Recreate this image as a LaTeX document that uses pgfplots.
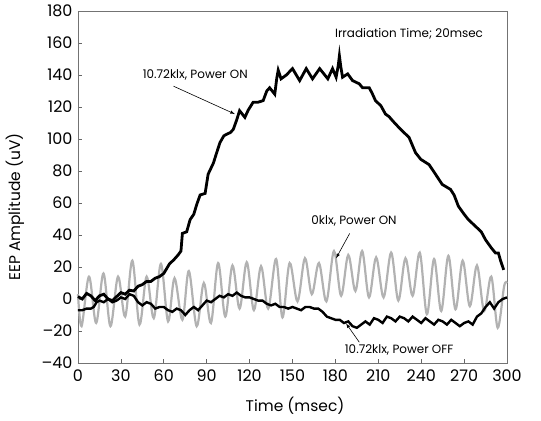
\documentclass[border=0pt]{standalone}
\usepackage{pgfplots}
\pgfplotsset{compat=1.18}
\usepackage{fontspec}
\setmainfont{Poppins}
\begin{document}
\begin{tikzpicture}
\begin{axis}[
 scale only axis, width=429bp, height=352bp,
 xmin=0,xmax=300,ymin=-40,ymax=180,
 xtick={0,30,...,300}, ytick={-40,-20,...,180},
 yticklabels={--40,--20,0,20,40,60,80,100,120,140,160,180},
 tick align=inside, tick pos=left, major tick length=4bp,
 axis line style={black!55, line width=0.7bp},
 tick style={black!60, line width=0.6bp},
 /pgf/number format/assume math mode=true,
 ticklabel style={font=\fontsize{16}{16}\selectfont},
 xticklabel style={yshift=-3bp},
 yticklabel style={xshift=-2bp},
 xlabel={Time (msec)},
 ylabel={EEP Amplitude (uV)},
 label style={font=\fontsize{15.5}{16}\selectfont},
 xlabel style={at={(axis description cs:0.506,-0.12)},anchor=center},
 ylabel style={at={(axis description cs:-0.147,0.443)},anchor=center},
 clip=false,
]
% 0klx, Power ON (grey)
\addplot[gray!60, line width=2.2bp, smooth, tension=0.55] coordinates {
(0,3)(2.5,-17)(7.7,14)(12.7,-15)(17.8,16)(22.7,-17)(28,14)(33,-11)(38,24)(43,-16)(48,14)(53,-12)(58,22)(63,-14)(67.5,13)(73,-13)(77.5,17.5)(83,-17)(88,10)(93,-15)(98,22.5)(103,-11)(108,21)(113,-6)(118,23)(123,-7)(128,20.5)(133,-6)(138.5,25)(143,-11.5)(148,22.5)(153.5,-1.5)(158.7,25.5)(163.5,3)(168.5,22.5)(173.7,-1.5)(179,30)(184,2)(189,27.5)(194,5)(198.7,30)(203.5,1)(208.5,26)(213.7,1)(219,29)(224,-1)(229,25.5)(234,2)(239,29)(244,-9.5)(249,25)(254,-7.5)(259,27)(264,-6.5)(269,24)(274,-4.5)(279,21)(284,-7.5)(289,14)(293.5,-18)(298,8)(300,10)
};
% 10.72klx, Power OFF
\addplot[black, line width=2.4bp] coordinates {
(0,-7)(3,-7)(6,-6)(9,-6)(11,-5)(13,-2)(15,-1)(18,-2)(21,0)(24,-2)(27,-1)(30,1)(33,0)(36,3)(39,2)(42,-2)(45,-4)(48,-2)(51,-3)(54,-6)(57,-5)(60,-5)(63,-7)(66,-8)(69,-6)(72,-7)(75,-10)(78,-7)(81,-5)(84,-7)(87,-4)(90,-1)(93,-2)(96,0)(99,2)(102,1)(105,3)(108,2)(111,4)(114,2)(117,1)(120,1)(123,0)(126,-1)(129,-1)(132,-3)(135,-4)(138,-3)(141,-5)(144,-5)(147,-6)(150,-5)(153,-6)(156,-7)(159,-5)(162,-5)(165,-6)(168,-6)(171,-8)(174,-11)(177,-12)(180,-13)(183,-13)(186,-15)(189,-14)(192,-17)(195,-18)(198,-16)(201,-14)(204,-16)(207,-12)(210,-13)(213,-15)(216,-11)(219,-12)(222,-14)(225,-11)(228,-12)(231,-14)(234,-11)(237,-13)(240,-15)(243,-12)(246,-14)(249,-16)(252,-13)(255,-14)(258,-16)(261,-13)(264,-15)(267,-17)(270,-15)(273,-14)(276,-16)(279,-11)(282,-9)(285,-5)(288,-2)(291,-6)(294,-2)(297,0)(300,1)
};
% 10.72klx, Power ON
\addplot[black, line width=2.8bp] coordinates {
(0,1.5)(3,0)(6,3.5)(9,2)(12,-1)(15,2)(18,3)(21,0)(24,-1)(27,1.5)(30,4)(33,3)(36,5.5)(39,5)(42,8)(45,9)(48,11)(51,11)(54,13)(57,14)(60,16)(62,19)(64,22)(67,24.5)(70,27.5)(72,30)(73,41)(76,42)(78.4,49.6)(81,53)(83,59)(85.4,65)(88.9,66)(91,78)(94.7,85)(97,91.5)(99.3,97.8)(102,102)(104,103)(106.5,104)(108.6,106)(111,112)(113,117.7)(116.7,113.5)(119,118)(122.5,123)(126,123)(129.5,124)(132,130)(134,132)(137.6,128)(139,138)(140,143)(142,137.6)(145.7,140)(150,144)(155,136.5)(159.6,144)(164,137.6)(169,144)(174.7,137.6)(178,144)(180.5,138.6)(182,146)(182.8,152)(183.8,145)(185,138.6)(188.6,140.7)(192,136.5)(196.7,134.5)(199,132)(203.7,132)(206,128)(208,124)(211.8,120.8)(215,115.6)(217.5,114)(220,111.4)(224.6,107)(228,104)(231.5,101)(236,91.5)(239.7,87.3)(245.5,84)(250,78)(254.7,71.6)(260.5,68.5)(263,65)(266,58)(270,53)(273,49.6)(278,45.4)(282,42)(285,37)(289,32)(292,28.7)(294,28.7)(295.5,24)(297.7,18.2)
};
\node[font=\fontsize{12}{12}\selectfont] at (axis cs:231.5,166) {Irradiation Time; 20msec};
\node[font=\fontsize{12}{12}\selectfont] at (axis cs:82,140) {10.72klx, Power ON};
\node[font=\fontsize{12}{12}\selectfont] at (axis cs:193,48.6) {0klx, Power ON};
\node[font=\fontsize{12}{12}\selectfont] at (axis cs:224.6,-32) {10.72klx, Power OFF};
\draw[-latex, line width=0.6bp] (axis cs:66.8,133) -- (axis cs:109.7,115.6);
\draw[-latex, line width=0.6bp] (axis cs:190,41) -- (axis cs:180.5,25.5);
\draw[-latex, line width=0.6bp] (axis cs:196.7,-27) -- (axis cs:187.5,-15.3);
\end{axis}
\pgfresetboundingbox
\path[use as bounding box] ([shift={(-78bp,-58bp)}]current axis.south west) rectangle ([shift={(34bp,11bp)}]current axis.north east);
\end{tikzpicture}
\end{document}
